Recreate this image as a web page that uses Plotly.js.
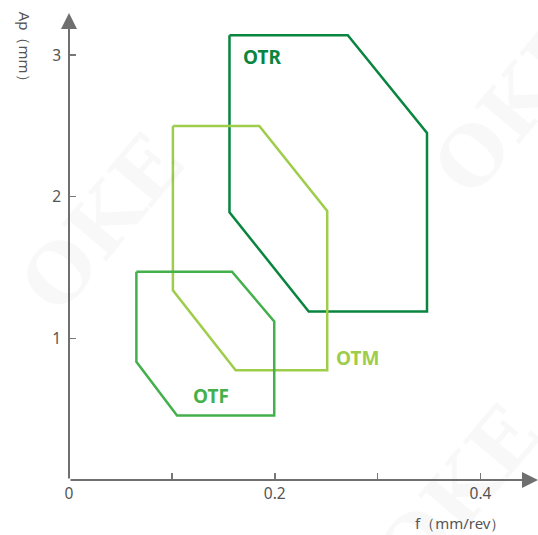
<!DOCTYPE html>
<html>
<head>
<meta charset="utf-8">
<script src="https://cdn.plot.ly/plotly-3.0.1.min.js"></script>
<style>html,body{margin:0;padding:0;background:#fff;}#chart{width:538px;height:535px;}</style>
</head>
<body>
<div id="chart"></div>
<script>
// Data (f in mm/rev, Ap in mm)
const otrF  = [0.156, 0.271, 0.348, 0.348, 0.233, 0.156, 0.156];
const otrAp = [3.14, 3.14, 2.45, 1.19, 1.19, 1.89, 3.14];
const otmF  = [0.101, 0.185, 0.251, 0.251, 0.162, 0.101, 0.101];
const otmAp = [2.50, 2.50, 1.90, 0.775, 0.775, 1.34, 2.50];
const otfF  = [0.0655, 0.1585, 0.1995, 0.1995, 0.105, 0.0655, 0.0655];
const otfAp = [1.47, 1.47, 1.12, 0.455, 0.455, 0.835, 1.47];
const seriesNames = ['OTR', 'OTM', 'OTF'];
const labelPos = { OTR: [0.1873, 2.983], OTM: [0.2805, 0.864], OTF: [0.1383, 0.596] };
const xTickVals = [0, 0.1, 0.2, 0.3, 0.4];
const xTickText = ['0', '', '0.2', '', '0.4'];
const yTickVals = [1, 2, 3];
const yTickText = ['1', '2', '3'];

const colors = { OTR: '#0a853f', OTM: '#9dcd4b', OTF: '#44b04b' };
const font = '"Noto Sans", "Open Sans", sans-serif';
const xMax = 0.4559, yMax = 3.297;

const mk = (name, x, y) => ({
  type: 'scatter', mode: 'lines', x, y, name,
  line: { color: colors[name], width: 2.5 }, hoverinfo: 'skip'
});
const data = [mk('OTR', otrF, otrAp), mk('OTM', otmF, otmAp), mk('OTF', otfF, otfAp)];

const annotations = [];
// faint watermarks
[[0.07, 0.55], [0.95, 0.80], [0.83, -0.03]].forEach(p => annotations.push({
  x: p[0], y: p[1], xref: 'paper', yref: 'paper', xanchor: 'center', yanchor: 'middle',
  text: '<b>OKE</b>', textangle: -50,
  showarrow: false, font: { family: '"DejaVu Serif", serif', size: 80, color: 'rgba(0,0,0,0.028)' }
}));
// axis arrows
annotations.push({ x: xMax, y: 0, ax: 0, ay: 0, xref: 'x', yref: 'y', axref: 'x', ayref: 'y',
  text: '', showarrow: true, arrowhead: 2, arrowsize: 1.6, arrowwidth: 2, arrowcolor: '#6f6f6f', standoff: 0 });
annotations.push({ x: 0, y: yMax, ax: 0, ay: 0, xref: 'x', yref: 'y', axref: 'x', ayref: 'y',
  text: '', showarrow: true, arrowhead: 2, arrowsize: 1.6, arrowwidth: 2, arrowcolor: '#6f6f6f', standoff: 0 });
// series labels
seriesNames.forEach(n => annotations.push({
  x: labelPos[n][0], y: labelPos[n][1], xref: 'x', yref: 'y', xanchor: 'center', yanchor: 'middle',
  text: '<b>' + n + '</b>',
  showarrow: false, font: { family: font, size: 19, color: colors[n] }
}));
// axis titles
annotations.push({ x: -0.0945, y: 0.92, xref: 'paper', yref: 'paper', xanchor: 'center', yanchor: 'middle',
  text: 'Ap（mm）', textangle: 90,
  showarrow: false, font: { family: font, size: 15, color: '#555' } });
annotations.push({ x: 0.8336, y: -0.093, xref: 'paper', yref: 'paper', xanchor: 'center', yanchor: 'middle',
  text: 'f（mm/rev）',
  showarrow: false, font: { family: font, size: 15, color: '#555' } });

const layout = {
  width: 538, height: 535,
  margin: { l: 69.3, r: 0, t: 13, b: 54.5 },
  paper_bgcolor: '#fff', plot_bgcolor: '#fff',
  showlegend: false,
  xaxis: { range: [0, xMax], showgrid: false, zeroline: false, showline: false,
    tickvals: xTickVals, ticktext: xTickText, ticks: 'inside', ticklen: 7, tickwidth: 1.5, tickcolor: '#777',
    ticklabelstandoff: 2,
    tickfont: { family: font, size: 15.5, color: '#555' }, fixedrange: true },
  yaxis: { range: [0, yMax], showgrid: false, zeroline: false, showline: false,
    tickvals: yTickVals, ticktext: yTickText, ticks: 'inside', ticklen: 7, tickwidth: 1.5, tickcolor: '#777',
    ticklabelstandoff: 7,
    tickfont: { family: font, size: 15.5, color: '#555' }, fixedrange: true },
  annotations
};
Plotly.newPlot('chart', data, layout, { displayModeBar: false, staticPlot: true });
</script>
</body>
</html>
